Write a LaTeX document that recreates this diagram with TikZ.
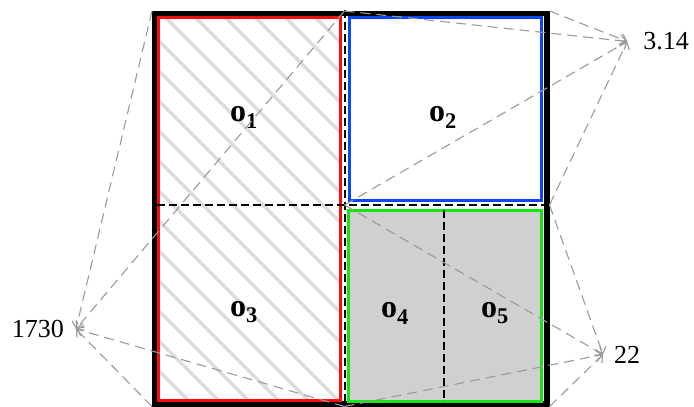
\documentclass[tikz,border=0pt]{standalone}
\usepackage{fontspec}
\setmainfont{Liberation Serif}
\usetikzlibrary{arrows.meta}
\definecolor{cred}{HTML}{FF0A0A}
\definecolor{cblue}{HTML}{0A46FF}
\definecolor{cgreen}{HTML}{14E614}
\definecolor{clink}{HTML}{9A9A9A}
\definecolor{chatch}{HTML}{DCDCDC}
\definecolor{cnoise}{HTML}{D0D0D0}
\tikzset{
  every picture/.style={line width=1pt},
  region/.style={draw=#1, line width=3pt},
  frame/.style={draw=black, line width=5.5pt},
  hatch/.style={draw=chatch, line width=3.5pt},
  split/.style={draw=black, line width=2pt, dash pattern=on 8pt off 4pt},
  link/.style={-{Straight Barb[length=6pt, width=11pt]}, draw=clink, line width=1.1pt, dash pattern=on 10pt off 6pt},
  objlbl/.style={font=\fontsize{32}{34}\selectfont\bfseries, inner sep=0pt},
  numlbl/.style={font=\fontsize{26}{28}\selectfont, inner sep=0pt},
}

\begin{document}
\begin{tikzpicture}[x=1pt, y=-1pt]
  \useasboundingbox (0,0) rectangle (694,407);
  % corners of the blocks
  \coordinate (tl) at (152,11);
  \coordinate (tm) at (344.5,11);
  \coordinate (tr) at (549.5,11);
  \coordinate (ml) at (157,205);
  \coordinate (mm) at (344.5,205);
  \coordinate (mr) at (549.5,205);
  \coordinate (bl) at (152,406.5);
  \coordinate (bm) at (344.5,406.5);
  \coordinate (br) at (549.5,406.5);
  \coordinate (gt) at (443.5,210);
  \coordinate (gb) at (443.5,402);
  % fills
  \begin{scope}
    \clip (158.5,17.5) rectangle (340.5,400);
    \foreach \k in {-14,...,7}
      \draw[hatch] (165+30*\k,17) -- ++(400,400);
  \end{scope}
  \fill[cnoise] (348.5,210) rectangle (541.5,401.5);
  % frame and regions
  \draw[frame] (154.5,13.5) rectangle (547,404);
  \draw[region=cred] (158.5,17.5) rectangle (340.5,400);
  \draw[region=cblue, fill=white] (349,17) rectangle (541.5,200);
  \draw[region=cgreen] (348.5,210) rectangle (541.5,401.5);
  % splits
  \draw[split] ([yshift=1.5pt]tm) -- ([yshift=-2pt]bm);
  \draw[split] (ml) -- ([xshift=-4pt]mr);
  \draw[split] (gt) -- (gb);
  % objects
  \node[objlbl] (o1) at (244,117.5) {o\textsubscript{1}};
  \node[objlbl] (o2) at (443,117.5) {o\textsubscript{2}};
  \node[objlbl] (o3) at (244,312) {o\textsubscript{3}};
  \node[objlbl] (o4) at (395,313.5) {o\textsubscript{4}};
  \node[objlbl] (o5) at (495,313.5) {o\textsubscript{5}};
  % values
  \node[numlbl, outer sep=12pt] (n1730) at (38,329) {1730};
  \node[numlbl, outer sep=16pt] (n314) at (666,41.5) {3.14};
  \node[numlbl, outer sep=11pt] (n22) at (627,354.5) {22};
  \foreach \c in {tl, tm, bm, bl} \draw[link] (\c) -- (n1730.east);
  \foreach \c in {tm, tr, mr, mm} \draw[link] (\c) -- (n314.west);
  \foreach \c in {mm, mr, br, bm} \draw[link] (\c) -- (n22.west);
\end{tikzpicture}
\end{document}
